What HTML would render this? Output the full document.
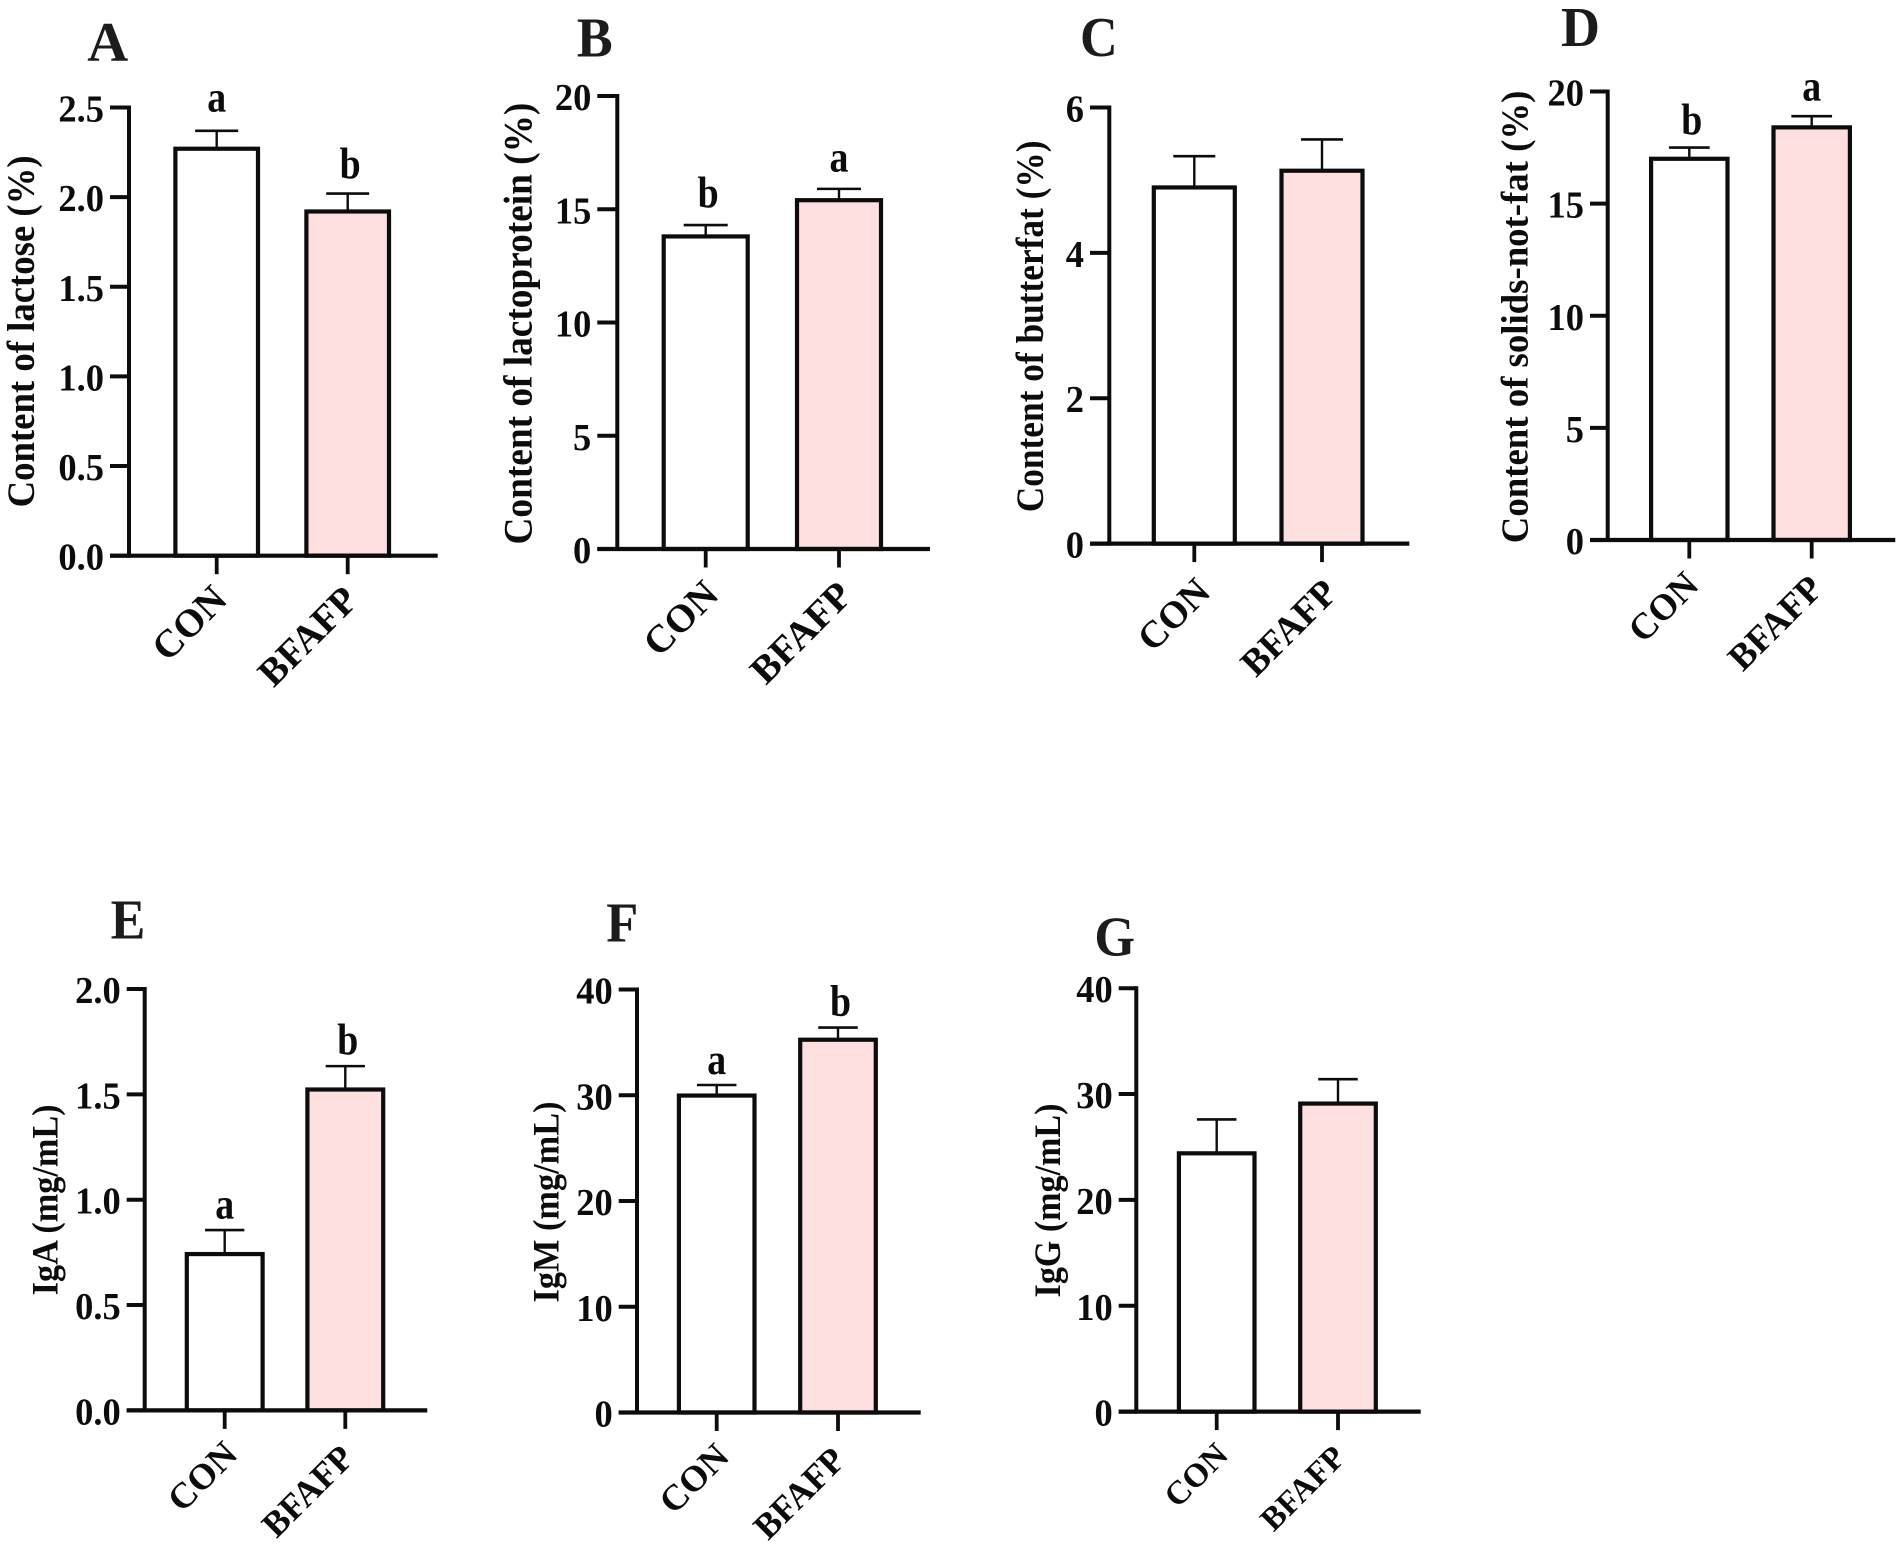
<!DOCTYPE html>
<html lang="en">
<head>
<meta charset="utf-8">
<title>Milk composition and immunoglobulin bar charts</title>
<style>
html,body{margin:0;padding:0;background:#fff;width:1902px;height:1548px;overflow:hidden}
svg{display:block}
text{font-family:"Liberation Serif",serif;font-weight:bold;fill:#0c0c0c}
</style>
</head>
<body>
<svg id="figure" xmlns="http://www.w3.org/2000/svg" width="1902" height="1548" viewBox="0 0 1902 1548"></svg>
<script>
const categories = ['CON', 'BFAFP'];

const lactoseMeans = [2.27, 1.92];
const lactoseErrors = [0.10, 0.10];
const lactoseLetters = ['a', 'b'];
const lactoseTicks = ['0.0', '0.5', '1.0', '1.5', '2.0', '2.5'];

const proteinMeans = [13.8, 15.4];
const proteinErrors = [0.5, 0.5];
const proteinLetters = ['b', 'a'];
const proteinTicks = ['0', '5', '10', '15', '20'];

const butterfatMeans = [4.90, 5.13];
const butterfatErrors = [0.43, 0.43];
const butterfatLetters = ['', ''];
const butterfatTicks = ['0', '2', '4', '6'];

const solidsMeans = [17.0, 18.4];
const solidsErrors = [0.5, 0.5];
const solidsLetters = ['b', 'a'];
const solidsTicks = ['0', '5', '10', '15', '20'];

const igaMeans = [0.742, 1.523];
const igaErrors = [0.114, 0.111];
const igaLetters = ['a', 'b'];
const igaTicks = ['0.0', '0.5', '1.0', '1.5', '2.0'];

const igmMeans = [29.97, 35.25];
const igmErrors = [1.0, 1.15];
const igmLetters = ['a', 'b'];
const igmTicks = ['0', '10', '20', '30', '40'];

const iggMeans = [24.4, 29.1];
const iggErrors = [3.2, 2.3];
const iggLetters = ['', ''];
const iggTicks = ['0', '10', '20', '30', '40'];

const panels = [
  {id:'a', title:'A', means:lactoseMeans, errors:lactoseErrors, letters:lactoseLetters, ticks:lactoseTicks,
   yLabel:'Content of lactose (%)',
   layout:{axisX:129, y0:555.7, yTop:107.5, xEnd:437.7, tickLeft:110, centers:[216.7,347.7], half:41.3, cap:43,
     titleX:107.8, titleY:61.2, titleW:41, labelX:34, labelMid:331.4, labelLen:352, labelFont:39.5,
     gaps:[19.5,15.1], conOff:[-27.4,67.3], bfafpOff:[-40,80.6], conLen:87, bfafpLen:122, xFont:39}},
  {id:'b', title:'B', means:proteinMeans, errors:proteinErrors, letters:proteinLetters, ticks:proteinTicks,
   yLabel:'Content of lactoprotein (%)',
   layout:{axisX:617.3, y0:549, yTop:96, xEnd:930, tickLeft:597.3, centers:[705.7,839], half:42, cap:44,
     titleX:594.7, titleY:56.6, titleW:36, labelX:531.5, labelMid:323.6, labelLen:441.9, labelFont:40,
     gaps:[17.4,17.4], conOff:[-25,69.2], bfafpOff:[-38,83.7], conLen:87, bfafpLen:125, xFont:39}},
  {id:'c', title:'C', means:butterfatMeans, errors:butterfatErrors, letters:butterfatLetters, ticks:butterfatTicks,
   yLabel:'Content of butterfat (%)',
   layout:{axisX:1109.3, y0:543.6, yTop:107.5, xEnd:1409.3, tickLeft:1090, centers:[1194.3,1322], half:40.5, cap:42,
     titleX:1098.8, titleY:55.8, titleW:37.7, labelX:1043, labelMid:326.4, labelLen:371.8, labelFont:39.5,
     gaps:[13,13], conOff:[-20.6,71], bfafpOff:[-33.2,84.2], conLen:84, bfafpLen:118, xFont:38}},
  {id:'d', title:'D', means:solidsMeans, errors:solidsErrors, letters:solidsLetters, ticks:solidsTicks,
   yLabel:'Content of solids-not-fat (%)',
   layout:{axisX:1607.7, y0:540, yTop:91.5, xEnd:1895.3, tickLeft:1590, centers:[1689.3,1811.7], half:38.2, cap:40.7,
     titleX:1580.5, titleY:45.9, titleW:39, labelX:1527.5, labelMid:316.9, labelLen:452.6, labelFont:38.5,
     gaps:[12.9,15.7], conOff:[-26,67], bfafpOff:[-36.5,82.9], conLen:81, bfafpLen:116, xFont:37}},
  {id:'e', title:'E', means:igaMeans, errors:igaErrors, letters:igaLetters, ticks:igaTicks,
   yLabel:'IgA (mg/mL)',
   layout:{axisX:144.7, y0:1410.4, yTop:989, xEnd:427.3, tickLeft:126.7, centers:[224.7,345.3], half:37.9, cap:39.3,
     titleX:128, titleY:938.4, titleW:34.7, labelX:57.3, labelMid:1199.9, labelLen:190.8, labelFont:37,
     gaps:[11.5,11.5], conOff:[-22.4,66], bfafpOff:[-37.6,80.8], conLen:81, bfafpLen:112, xFont:36}},
  {id:'f', title:'F', means:igmMeans, errors:igmErrors, letters:igmLetters, ticks:igmTicks,
   yLabel:'IgM (mg/mL)',
   layout:{axisX:637, y0:1412.5, yTop:989.5, xEnd:920.7, tickLeft:618.7, centers:[716.7,838], half:37.8, cap:39.5,
     titleX:622.2, titleY:941.7, titleW:32, labelX:558.3, labelMid:1202, labelLen:201, labelFont:37,
     gaps:[11,11.5], conOff:[-22.7,66], bfafpOff:[-38.7,80.8], conLen:81, bfafpLen:112, xFont:36}},
  {id:'g', title:'G', means:iggMeans, errors:iggErrors, letters:iggLetters, ticks:iggTicks,
   yLabel:'IgG (mg/mL)',
   layout:{axisX:1136.3, y0:1411.6, yTop:988.2, xEnd:1420.7, tickLeft:1118.7, centers:[1216.7,1338], half:37.8, cap:39.5,
     titleX:1114.7, titleY:955.4, titleW:40.7, labelX:1060, labelMid:1200.5, labelLen:193.9, labelFont:37,
     gaps:[11.5,11.5], conOff:[-20.7,63.5], bfafpOff:[-35.3,76.6], conLen:74, bfafpLen:104, xFont:33}}
];

const NS = 'http://www.w3.org/2000/svg';
const figure = document.getElementById('figure');

function make(tag, attrs, parent, text) {
  const node = document.createElementNS(NS, tag);
  for (const key in attrs) node.setAttribute(key, attrs[key]);
  if (text !== undefined) node.textContent = text;
  parent.appendChild(node);
  return node;
}

function yScale(panel, value) {
  const L = panel.layout;
  const max = parseFloat(panel.ticks[panel.ticks.length - 1]);
  return L.y0 - (value / max) * (L.y0 - L.yTop);
}

function xScale(panel, index) {
  return panel.layout.centers[index];
}

panels.forEach(function (panel) {
  const L = panel.layout;
  const g = make('g', {}, figure);
  
  

  let el = make('text', {x:L.titleX, y:L.titleY, 'text-anchor':'middle', 'font-size':56, textLength:L.titleW, lengthAdjust:'spacingAndGlyphs', style:'fill:#1c1c1c'}, g, panel.title);
  
  

  el = make('text', {x:0, y:0, transform:'translate(' + L.labelX + ',' + L.labelMid + ') rotate(-90)', 'text-anchor':'middle', 'font-size':L.labelFont, textLength:L.labelLen, lengthAdjust:'spacingAndGlyphs'}, g, panel.yLabel);
  
  

  categories.forEach(function (cat, i) {
    const cx = xScale(panel, i);
    const top = yScale(panel, panel.means[i]);
    const errTop = yScale(panel, panel.means[i] + panel.errors[i]);

    el = make('line', {x1:cx, x2:cx, y1:top, y2:errTop, stroke:'#0c0c0c', 'stroke-width':2.4}, g);
    
    

    el = make('line', {x1:cx - L.cap / 2, x2:cx + L.cap / 2, y1:errTop, y2:errTop, stroke:'#0c0c0c', 'stroke-width':2.6}, g);
    
    

    el = make('rect', {x:cx - L.half, y:top, width:L.half * 2, height:L.y0 - top, fill:i === 0 ? '#ffffff' : '#fddfdf', stroke:'#0c0c0c', 'stroke-width':4.2}, g);
    
    

    const letter = panel.letters[i];
    if (letter) {
      const dx = letter === 'b' ? 2.5 : 0;
      el = make('text', {x:0, y:0, transform:'translate(' + (cx + dx) + ',' + (errTop - L.gaps[i]) + ') scale(0.86,1)', 'text-anchor':'middle', 'font-size':44}, g, letter);
      
      
    }

    el = make('line', {x1:cx, x2:cx, y1:L.y0, y2:L.y0 + 18.5, stroke:'#0c0c0c', 'stroke-width':3.8}, g);
    
    

    const off = i === 0 ? L.conOff : L.bfafpOff;
    const len = i === 0 ? L.conLen : L.bfafpLen;
    el = make('text', {x:0, y:L.xFont * 0.33, transform:'translate(' + (cx + off[0]) + ',' + (L.y0 + off[1]) + ') rotate(-45)', 'text-anchor':'middle', 'font-size':L.xFont, textLength:len, lengthAdjust:'spacingAndGlyphs'}, g, cat);
    
    
  });

  el = make('line', {x1:L.axisX, x2:L.axisX, y1:L.yTop - 2, y2:L.y0 + 2, stroke:'#0c0c0c', 'stroke-width':4}, g);
  
  

  el = make('line', {x1:L.tickLeft, x2:L.xEnd, y1:L.y0, y2:L.y0, stroke:'#0c0c0c', 'stroke-width':4.2}, g);
  
  

  panel.ticks.forEach(function (label) {
    const ty = yScale(panel, parseFloat(label));

    el = make('line', {x1:L.tickLeft, x2:L.axisX, y1:ty, y2:ty, stroke:'#0c0c0c', 'stroke-width':4}, g);
    
    

    el = make('text', {x:0, y:0, transform:'translate(' + (L.tickLeft - 6) + ',' + (ty + 14) + ') scale(0.96,1)', 'text-anchor':'end', 'font-size':38}, g, label);
    
    
  });
});
</script>
</body>
</html>
